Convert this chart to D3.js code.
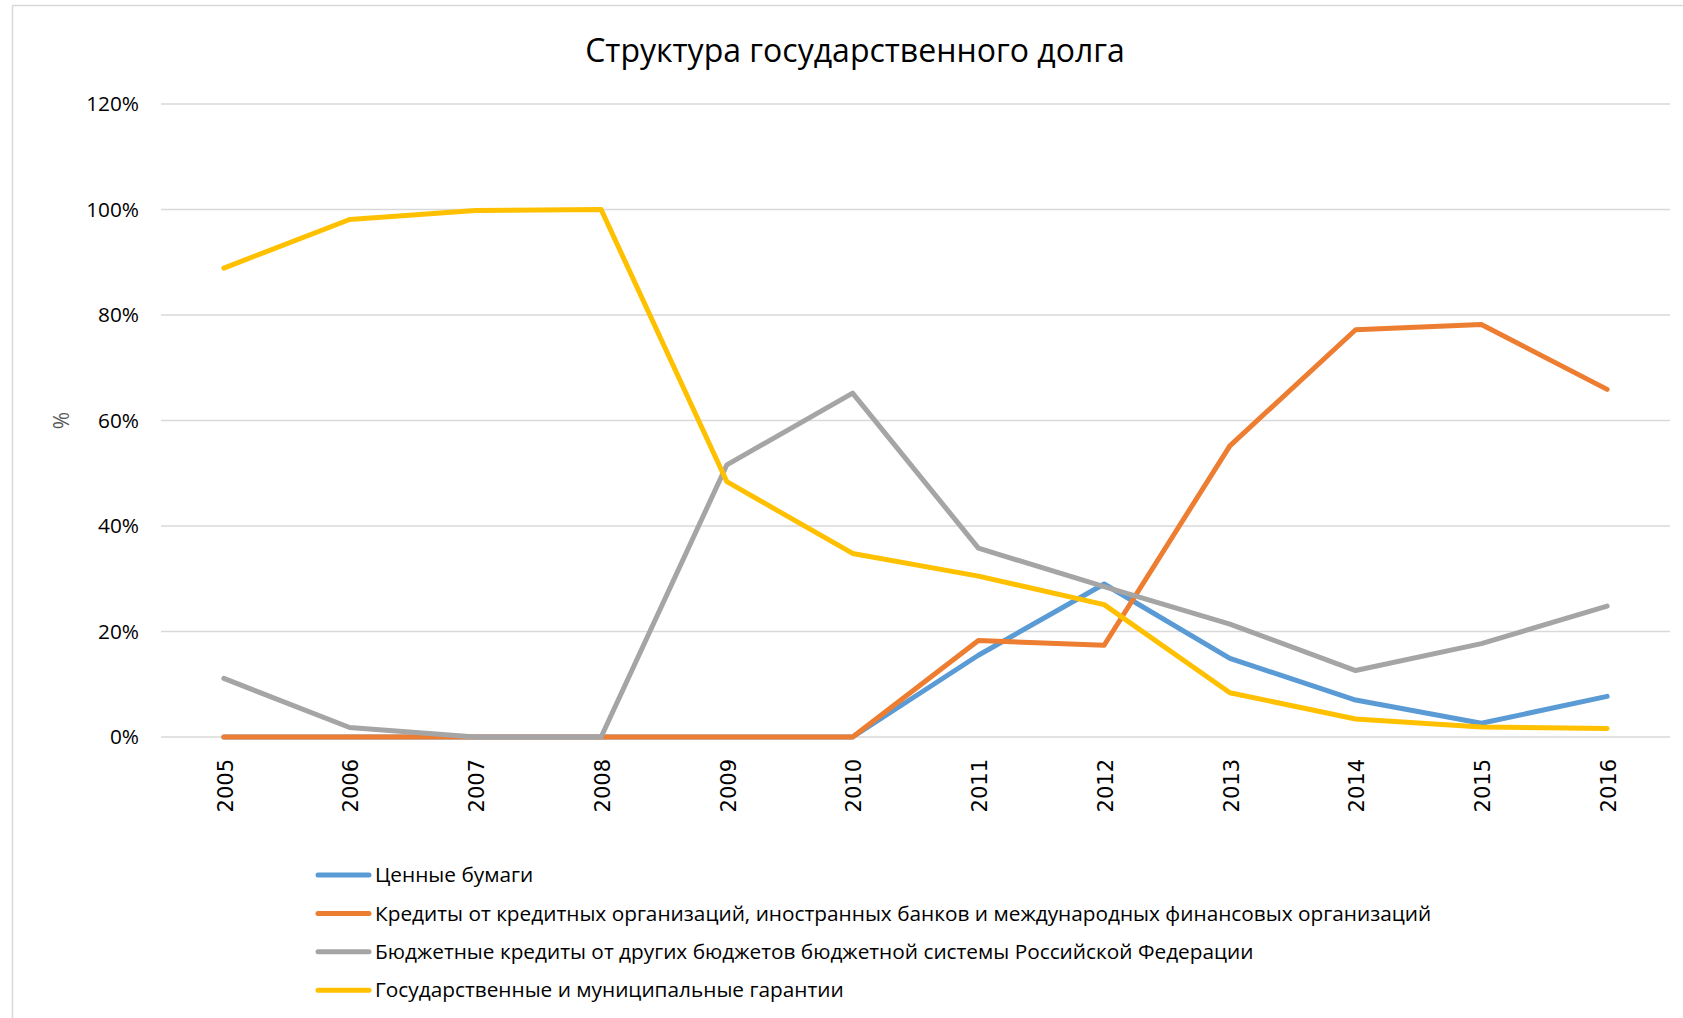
<!DOCTYPE html>
<html>
<head>
<meta charset="utf-8">
<script src="https://cdn.jsdelivr.net/npm/d3@7"></script>
<style>
    html, body { margin: 0; padding: 0; background: #fff; }
    svg { display: block; }
    text { font-family: "Open Sans", sans-serif; fill: #000; }
</style>
</head>
<body>
<svg id="chart"></svg>
<script>
(function () {

    // Data (shares of debt)
    const years = ["2005", "2006", "2007", "2008", "2009", "2010", "2011", "2012", "2013", "2014", "2015", "2016"];
    const securities = [0, 0, 0, 0, 0, 0, 0.155, 0.29, 0.149, 0.07, 0.026, 0.077];
    const bankCredits = [0, 0, 0, 0, 0, 0, 0.183, 0.174, 0.552, 0.772, 0.782, 0.659];
    const budgetCredits = [0.111, 0.018, 0, 0, 0.516, 0.652, 0.358, 0.285, 0.214, 0.126, 0.177, 0.248];
    const guarantees = [0.889, 0.981, 0.998, 1.0, 0.484, 0.348, 0.305, 0.251, 0.084, 0.034, 0.019, 0.016];
    const yTicks = [0, 0.2, 0.4, 0.6, 0.8, 1.0, 1.2];

    const seriesNames = [
        "Ценные бумаги",
        "Кредиты от кредитных организаций, иностранных банков и международных финансовых организаций",
        "Бюджетные кредиты от других бюджетов бюджетной системы Российской Федерации",
        "Государственные и муниципальные гарантии"
    ];
    const seriesColors = ["#5B9BD5", "#ED7D31", "#A5A5A5", "#FFC000"];
    const seriesValues = [securities, bankCredits, budgetCredits, guarantees];

    const series = seriesNames.map((name, i) => {
        return { name: name, color: seriesColors[i], values: seriesValues[i] };
    });

    // Sizes
    const width = 1683,
        height = 1018;
    const plot = { left: 161, right: 1670, top: 104, bottom: 737 };

    const svg = d3.select("#chart")
        .attr("width", width)
        .attr("height", height);

    // Chart area border
    svg.append("rect")
        .attr("x", 12.5)
        .attr("y", 5.5)
        .attr("width", 1690)
        .attr("height", 1030)
        .attr("fill", "#fff")
        .attr("stroke", "#D9D9D9")
        .attr("stroke-width", 1.5);

    // Scales
    const x = d3.scalePoint()
        .domain(years)
        .range([plot.left, plot.right])
        .padding(0.5);

    const y = d3.scaleLinear()
        .domain([0, 1.2])
        .range([plot.bottom, plot.top]);

    // Title
    svg.append("text")
        .attr("x", 855)
        .attr("y", 62)
        .style("text-anchor", "middle")
        .style("font-size", "32px")
        .text("Структура государственного долга");

    // Gridlines
    svg.append("g")
        .selectAll("line")
        .data(yTicks)
        .enter().append("line")
        .attr("x1", plot.left)
        .attr("x2", plot.right)
        .attr("y1", (d) => y(d))
        .attr("y2", (d) => y(d))
        .attr("stroke", "#D9D9D9")
        .attr("stroke-width", 1.5);

    // Y axis
    const yAxis = svg.append("g")
        .attr("transform", "translate(" + 139 + ",0)")
        .call(d3.axisLeft(y).tickValues(yTicks).tickFormat(d3.format(".0%")).tickSize(0).tickPadding(0));
    yAxis.select(".domain").remove();
    yAxis.selectAll("text")
        .style("font-family", "'Open Sans', sans-serif")
        .style("font-size", "20.8px")
        .attr("fill", "#000");

    // Y axis title
    svg.append("text")
        .attr("transform", "translate(69," + ((plot.top + plot.bottom) / 2) + ") rotate(-90)")
        .style("text-anchor", "middle")
        .style("font-size", "21px")
        .style("fill", "#595959")
        .text("%");

    // X axis
    const xAxis = svg.append("g")
        .attr("transform", "translate(0," + plot.bottom + ")")
        .call(d3.axisBottom(x).tickSize(0).tickPadding(0));
    xAxis.select(".domain").remove();
    xAxis.selectAll("text")
        .attr("transform", "translate(1,22) rotate(-90)")
        .attr("x", 0)
        .attr("y", 0)
        .attr("dy", "0.35em")
        .style("text-anchor", "end")
        .style("font-family", "'DejaVu Sans', sans-serif")
        .style("font-size", "21px")
        .attr("fill", "#000");

    // Lines
    const line = d3.line()
        .x((d, i) => x(years[i]))
        .y((d) => y(d));

    svg.append("g")
        .selectAll("path")
        .data(series)
        .enter().append("path")
        .attr("d", (d) => line(d.values))
        .attr("fill", "none")
        .attr("stroke", (d) => d.color)
        .attr("stroke-width", 5)
        .attr("stroke-linejoin", "round")
        .attr("stroke-linecap", "round");

    // Legend
    const legend = svg.append("g")
        .selectAll("g")
        .data(series)
        .enter().append("g")
        .attr("transform", (d, i) => "translate(318," + (875 + i * 38.4) + ")");

    legend.append("line")
        .attr("x1", 0)
        .attr("x2", 51)
        .attr("y1", 0)
        .attr("y2", 0)
        .attr("stroke", (d) => d.color)
        .attr("stroke-width", 5)
        .attr("stroke-linecap", "round");

    legend.append("text")
        .attr("x", 57)
        .attr("y", 0)
        .attr("dy", "0.35em")
        .style("font-size", "20.8px")
        .text((d) => d.name);
})();
</script>
</body>
</html>
